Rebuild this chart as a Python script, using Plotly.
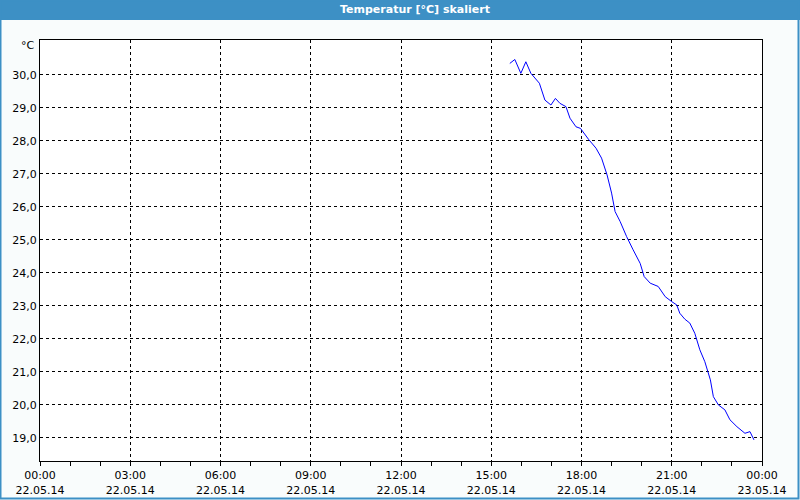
import plotly.graph_objects as go

times = ["15:37","15:47","15:59","16:09","16:19","16:36","16:47","16:59","17:08","17:17",
         "17:29","17:37","17:49","17:58","18:14","18:29","18:40","18:51","19:00","19:07",
         "19:17","19:30","19:43","19:57","20:05","20:17","20:33","20:47","21:00","21:10",
         "21:16","21:26","21:36","21:46","21:56","22:06","22:17","22:23","22:33","22:46",
         "22:56","23:10","23:26","23:36","23:44"]
temps = [30.35,30.47,30.05,30.40,30.05,29.75,29.24,29.09,29.29,29.14,
         29.04,28.69,28.43,28.38,28.05,27.78,27.48,26.97,26.42,25.86,
         25.56,25.10,24.70,24.29,23.89,23.69,23.59,23.28,23.13,23.03,
         22.78,22.60,22.48,22.17,21.67,21.31,20.76,20.25,20.00,19.85,
         19.55,19.34,19.14,19.19,18.94]

x_tickvals = ["2014-05-22 00:00","2014-05-22 03:00","2014-05-22 06:00","2014-05-22 09:00",
              "2014-05-22 12:00","2014-05-22 15:00","2014-05-22 18:00","2014-05-22 21:00",
              "2014-05-23 00:00"]
x_ticktext = ["00:00<br>22.05.14","03:00<br>22.05.14","06:00<br>22.05.14","09:00<br>22.05.14",
              "12:00<br>22.05.14","15:00<br>22.05.14","18:00<br>22.05.14","21:00<br>22.05.14",
              "00:00<br>23.05.14"]
y_tickvals = [19,20,21,22,23,24,25,26,27,28,29,30]
y_ticktext = ["19,0","20,0","21,0","22,0","23,0","24,0","25,0","26,0","27,0","28,0","29,0","30,0"]

title_text = "Temperatur [°C] skaliert"
unit_text = "°C"

xs = ["2014-05-22 " + t for t in times]

W, H = 800, 500
L, R, T, B = 40, 38, 40, 39
pw, ph = W - L - R, H - T - B

def px_x(p):
    return (p - L) / pw

def px_y(p):
    return 1 - (p - T) / ph

font = "DejaVu Sans"

fig = go.Figure()
fig.add_trace(go.Scatter(x=xs, y=temps, mode="lines",
                         line=dict(color="#0000ff", width=1), hoverinfo="skip"))

fig.update_layout(
    width=W, height=H,
    margin=dict(l=L, r=R, t=T, b=B, autoexpand=False),
    paper_bgcolor="#f9fcfc",
    plot_bgcolor="#ffffff",
    showlegend=False,
    font=dict(family=font, size=11, color="#000000"),
    xaxis=dict(
        range=["2014-05-22 00:00", "2014-05-23 00:00"],
        tickvals=x_tickvals, ticktext=x_ticktext,
        showgrid=True, gridcolor="#000000", griddash="3px,3px", gridwidth=1,
        showline=True, linecolor="#000000", linewidth=1, mirror=True,
        ticks="outside", ticklen=4, tickcolor="#000000",
        minor=dict(dtick=3600000, ticks="outside", ticklen=4, tickcolor="#000000", showgrid=False),
        zeroline=False, fixedrange=True, automargin=False,
        tickfont=dict(family=font, size=11),
    ),
    yaxis=dict(
        range=[18.30, 31.06],
        tickvals=y_tickvals, ticktext=y_ticktext,
        showgrid=True, gridcolor="#000000", griddash="3px,3px", gridwidth=1,
        showline=True, linecolor="#000000", linewidth=1, mirror=True,
        ticks="", ticklen=0,
        zeroline=False, fixedrange=True, automargin=False,
        tickfont=dict(family=font, size=11),
    ),
    shapes=[
        dict(type="rect", xref="paper", yref="paper",
             x0=px_x(0), x1=px_x(W), y0=px_y(20), y1=px_y(0),
             fillcolor="#3d90c5", line=dict(width=0), layer="above"),
        dict(type="rect", xref="paper", yref="paper",
             x0=px_x(0.5), x1=px_x(W - 1.5), y0=px_y(H - 1.5), y1=px_y(0.5),
             fillcolor="rgba(0,0,0,0)", line=dict(color="#3d90c5", width=2), layer="above"),
    ],
    annotations=[
        dict(text="<b>" + title_text + "</b>", xref="paper", yref="paper",
             x=px_x(415), y=px_y(10), showarrow=False, xanchor="center", yanchor="middle",
             font=dict(family=font, size=11, color="#ffffff")),
        dict(text=unit_text, xref="paper", yref="paper",
             x=px_x(37), y=px_y(45), showarrow=False, xanchor="right", yanchor="middle",
             font=dict(family=font, size=11, color="#000000")),
    ],
)

fig.write_html("out.html")
